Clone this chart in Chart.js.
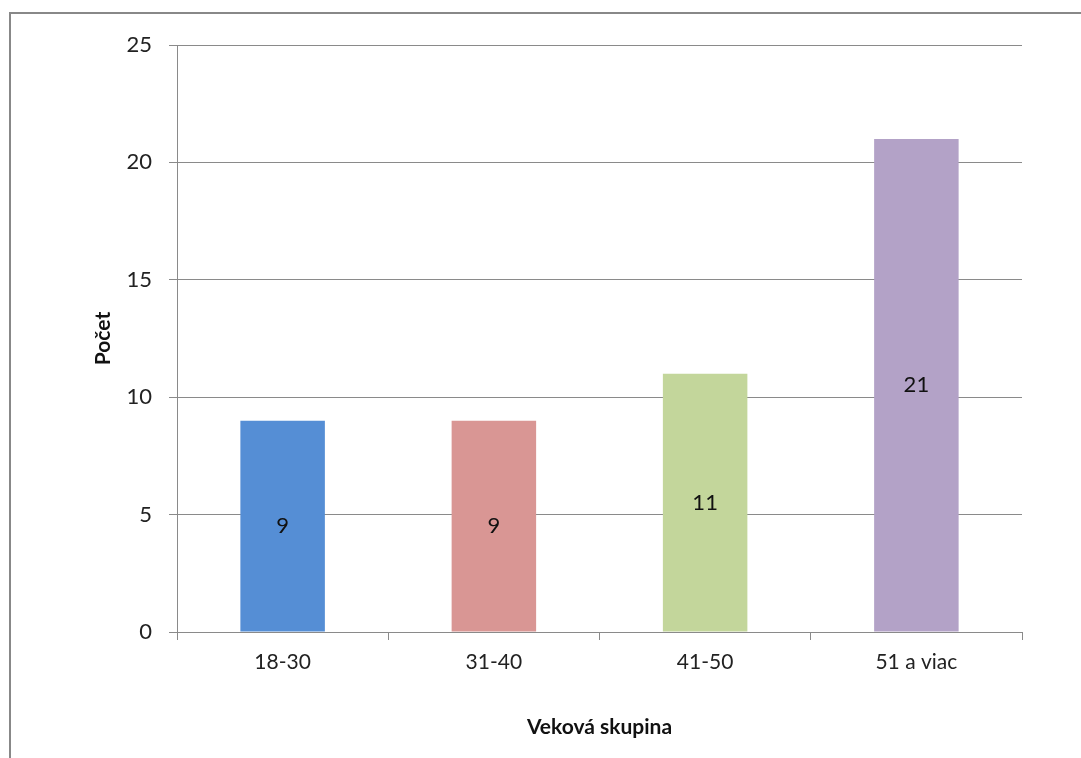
<!DOCTYPE html>
<html>
<head>
<meta charset="utf-8">
<script src="https://cdn.jsdelivr.net/npm/chart.js@4/dist/chart.umd.min.js"></script>
<style>
  html, body { margin: 0; padding: 0; background: #fff; overflow: hidden; }
  #wrap { position: relative; width: 1081px; height: 758px; }
  #frame { position: absolute; left: 9px; top: 12px; width: 1200px; height: 900px;
           border-top: 2px solid #888; border-left: 2px solid #888; box-sizing: border-box; }
  canvas { position: absolute; left: 0; top: 0; }
</style>
</head>
<body>
<div id="wrap">
  <div id="frame"></div>
  <canvas id="c" width="1081" height="758"></canvas>
</div>
<script>
const categories = ["18-30", "31-40", "41-50", "51 a viac"];
const counts = [9, 9, 11, 21];
const barColors = ["#558ED5", "#D99694", "#C3D69B", "#B3A2C7"];
const yTitle = "Počet";
const xTitle = "Veková skupina";

const FONT = "Lato, 'Open Sans', 'Liberation Sans', sans-serif";
const GRID = "#8a8a8a";

const valueLabels = {
  id: 'valueLabels',
  afterDatasetsDraw(chart) {
    const ctx = chart.ctx;
    const meta = chart.getDatasetMeta(0);
    ctx.save();
    ctx.font = "22px " + FONT;
    ctx.fillStyle = "#111";
    ctx.textAlign = "center";
    ctx.textBaseline = "middle";
    meta.data.forEach((bar, i) => {
      const v = chart.data.datasets[0].data[i];
      const y = (bar.y + bar.base) / 2;
      ctx.fillText(String(v), bar.x, y);
    });
    ctx.restore();
  }
};

new Chart(document.getElementById('c'), {
  type: 'bar',
  data: {
    labels: categories,
    datasets: [{
      data: counts,
      backgroundColor: barColors,
      borderWidth: 0,
      barPercentage: 0.4,
      categoryPercentage: 1.0
    }]
  },
  options: {
    responsive: false,
    animation: false,
    events: [],
    layout: { padding: { left: 0, top: 45, right: 59, bottom: 0 } },
    plugins: { legend: { display: false }, tooltip: { enabled: false } },
    scales: {
      x: {
        grid: { offset: true, drawOnChartArea: false, color: GRID, tickLength: 8, lineWidth: 1 },
        border: { color: GRID, width: 1 },
        ticks: { font: { family: FONT, size: 21 }, color: "#222", padding: 10, maxRotation: 0 },
        title: { display: true, text: xTitle, font: { family: FONT, size: 21, weight: 'bold' },
                 color: "#111", padding: { top: 0, bottom: 18 } },
        afterFit(s) { s.height = 126; }
      },
      y: {
        min: 0, max: 25,
        ticks: { stepSize: 5, font: { family: FONT, size: 22 }, color: "#222", padding: 17 },
        grid: { color: GRID, tickLength: 8, lineWidth: 1 },
        border: { color: GRID, width: 1 },
        title: { display: true, text: yTitle, font: { family: FONT, size: 21, weight: 'bold' },
                 color: "#111", padding: { top: 91, bottom: 0 } },
        afterFit(s) { s.width = 177; }
      }
    }
  },
  plugins: [valueLabels]
});
</script>
</body>
</html>
